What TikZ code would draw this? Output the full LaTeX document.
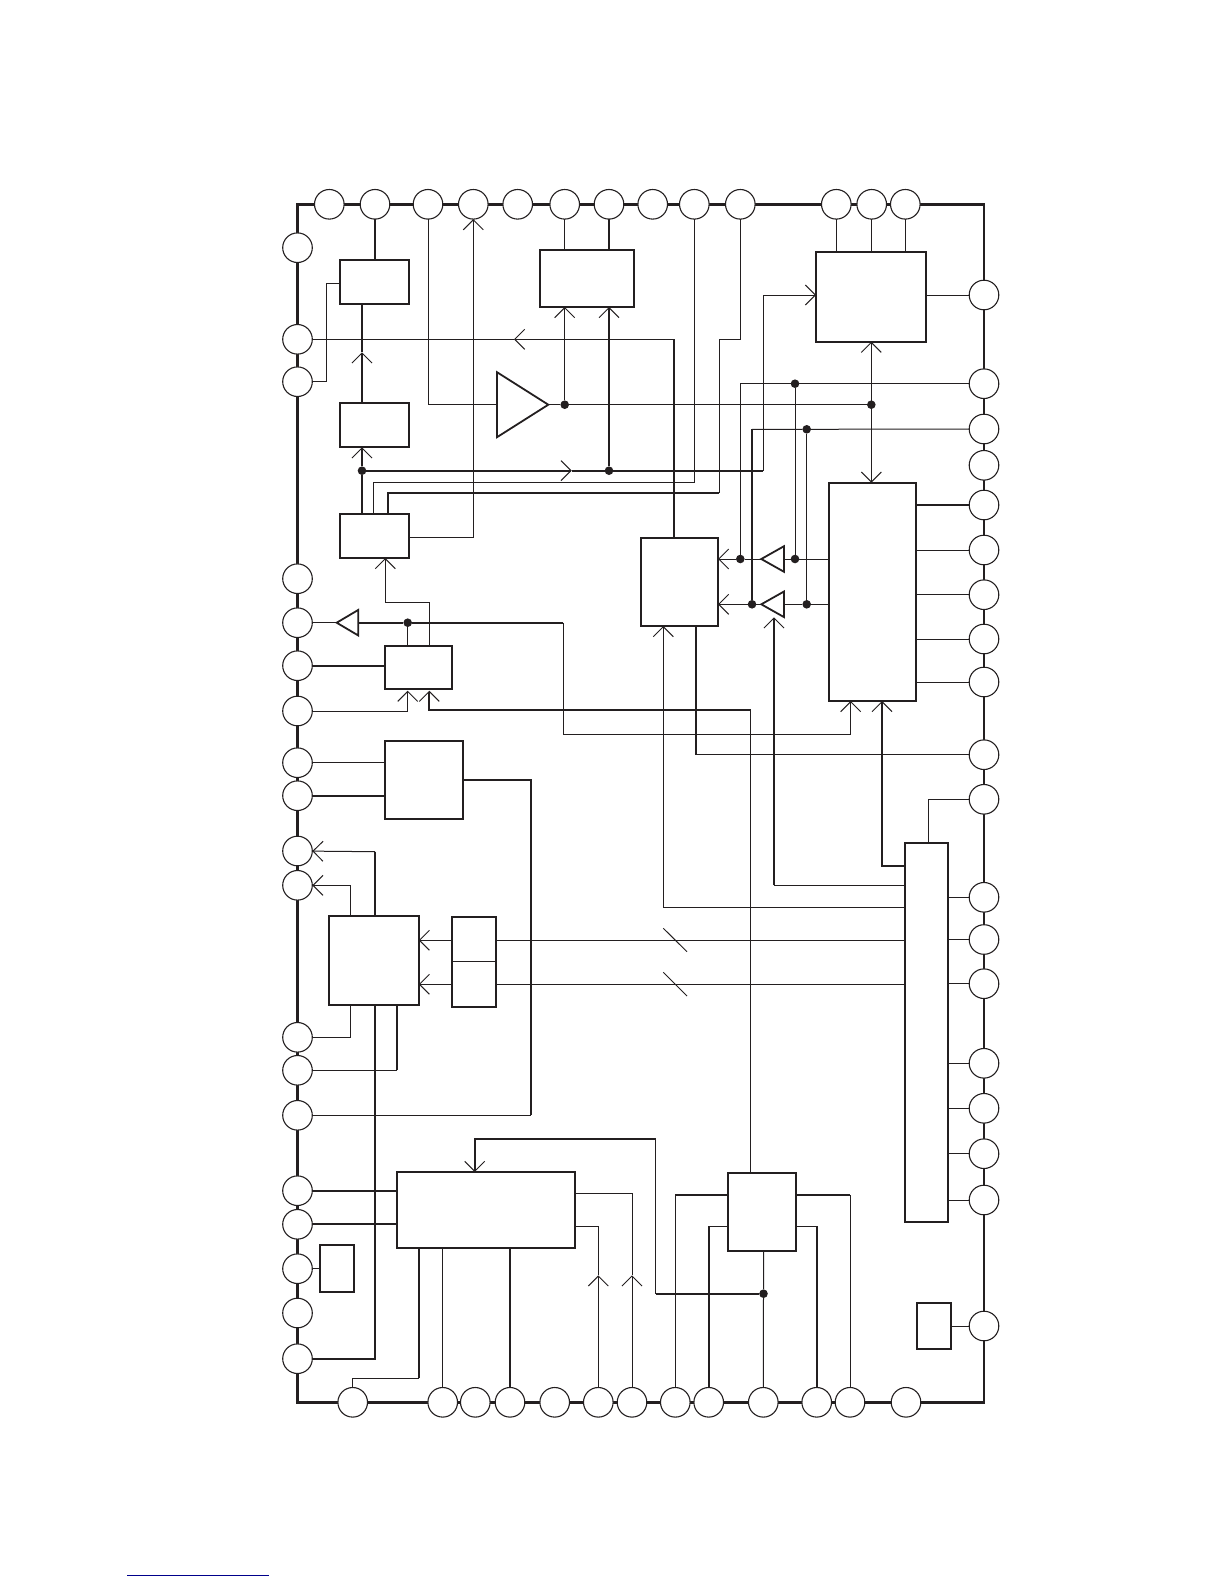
\documentclass[tikz,border=0pt]{standalone}
\usetikzlibrary{arrows.meta,shapes.geometric}
\definecolor{ink}{HTML}{231F20}
\definecolor{rule}{HTML}{00008B}
\tikzset{
  pin/.style={draw=ink,circle,fill=white,minimum size=29.6pt,inner sep=0pt,outer sep=0pt,line width=1.1pt},
  blk/.style={draw=ink,inner sep=0pt,outer sep=0pt,line width=1.8pt},
  wire/.style={draw=ink,line width=1pt},
  bus/.style={draw=ink,line width=1.9pt},
  dotn/.style={circle,fill=ink,inner sep=0pt,outer sep=0pt,minimum size=8.6pt},
  tri/.style={draw=ink,isosceles triangle,isosceles triangle stretches,shape border rotate=180,
    inner sep=0pt,outer sep=0pt,line width=1.8pt,anchor=apex},
  >={Straight Barb[length=10pt,width=20pt,line width=1pt]}
}
\begin{document}
\begin{tikzpicture}[x=1pt,y=-1pt]
\useasboundingbox (0,0) rectangle (1224,1584);

% outline of the package
\draw[ink,line width=2.4pt] (984,204.3) -- (297.5,204.3) -- (297.5,1402.3) -- (984,1402.3);
\draw[ink,line width=1.7pt] (984,203.1) -- (984,1403.5);

% pins
\foreach \x [count=\i] in {329.3,375,428,473.3,517.7,564.7,609,652.7,694.3,740.3,836.3,871.7,905.3}
  \node[pin] (pT\i) at (\x,204.3) {};
\foreach \y [count=\i] in {247.7,339.3,381.7,578.7,622.7,665.7,711,762.7,795.7,851,885.3,1037.3,1070.3,1115.3,1190.7,1224.3,1268.7,1313,1358.7}
  \node[pin] (pL\i) at (297.5,\y) {};
\foreach \y [count=\i] in {295,383.7,429,465.3,505,550,594.7,639,682,754.7,799.3,897.3,939.5,983.7,1063.3,1108.3,1153.7,1200,1326}
  \node[pin] (pR\i) at (984,\y) {};
\foreach \x [count=\i] in {352.7,442.7,475.3,510,554.7,598.3,632,675.3,708.7,763.3,816.7,850,906}
  \node[pin] (pB\i) at (\x,1402.3) {};

% blocks
\node[blk,minimum width=69pt,minimum height=44.3pt] (blkA) at (374.5,282.15) {};
\node[blk,minimum width=69pt,minimum height=44.6pt] (blkB) at (374.5,425) {};
\node[blk,minimum width=69pt,minimum height=44.3pt] (blkC) at (374.5,535.85) {};
\node[blk,minimum width=94pt,minimum height=57pt] (blkD) at (587,278.5) {};
\node[blk,minimum width=110pt,minimum height=89.4pt] (blkE) at (871,297) {};
\node[blk,minimum width=77pt,minimum height=88pt] (blkF) at (679.5,582) {};
\node[blk,minimum width=87pt,minimum height=218.3pt] (blkG) at (872.5,591.85) {};
\node[blk,minimum width=43pt,minimum height=379pt] (blkH) at (926.5,1032.2) {};
\node[blk,minimum width=67pt,minimum height=43pt] (blkJ) at (418.5,667.2) {};
\node[blk,minimum width=78pt,minimum height=77.7pt] (blkK) at (424,779.85) {};
\node[blk,minimum width=89.7pt,minimum height=89pt] (blkL) at (373.85,960.2) {};
\node[blk,minimum width=44pt,minimum height=90pt] (blkM) at (474,961.7) {};
\node[blk,minimum width=178.3pt,minimum height=76pt] (blkN) at (486.15,1210) {};
\node[blk,minimum width=67.7pt,minimum height=77.7pt] (blkP) at (762.15,1211.85) {};
\node[blk,minimum width=34pt,minimum height=47pt] (blkQ) at (337,1268.5) {};
\node[blk,minimum width=34.3pt,minimum height=46.3pt] (blkR) at (934.15,1325.85) {};
\draw[wire] (blkM.west) -- (blkM.east);

% amplifiers
\node[tri,shape border rotate=0,minimum width=65pt,minimum height=51.3pt] (ampA) at (548.3,404.7) {};
\node[tri,minimum width=25.6pt,minimum height=22.7pt] (bufA) at (761.3,559) {};
\node[tri,minimum width=25.6pt,minimum height=22.7pt] (bufB) at (761.3,604.3) {};
\node[tri,minimum width=25.6pt,minimum height=21.6pt] (bufC) at (336.7,622.7) {};

% junctions
\node[dotn] (dotA) at (362,470.7) {};
\node[dotn] (dotB) at (609,470.7) {};
\node[dotn] (dotC) at (564.7,404.7) {};
\node[dotn] (dotD) at (871.3,404.7) {};
\node[dotn] (dotE) at (795,383.7) {};
\node[dotn] (dotF) at (740.3,559) {};
\node[dotn] (dotG) at (795,559) {};
\node[dotn] (dotH) at (806.7,429.3) {};
\node[dotn] (dotI) at (806.7,604.3) {};
\node[dotn] (dotJ) at (752,604.3) {};
\node[dotn] (dotK) at (407.7,622.7) {};
\node[dotn] (dotL) at (763.5,1293.7) {};

% bends
\coordinate (jA) at (326.3,283.3);
\coordinate (jB) at (763.3,470.7);
\coordinate (jC) at (373.3,482.3);
\coordinate (jD) at (388,493);
\coordinate (jE) at (719.3,493);
\coordinate (jF) at (674,339.3);
\coordinate (jG) at (774,885.3);
\coordinate (jH) at (696,754.7);
\coordinate (jI) at (928.3,799.3);
\coordinate (jJ) at (882,866);
\coordinate (jK) at (663.3,907.3);
\coordinate (jL) at (563.3,622.7);
\coordinate (jM) at (850.7,734.3);
\coordinate (jN) at (429.3,602.3);
\coordinate (jO) at (385.3,602.3);
\coordinate (jP) at (429.3,710);
\coordinate (jQ) at (750.5,710);
\coordinate (jR) at (530.7,1115.3);
\coordinate (jS) at (375,851.7);
\coordinate (jT) at (350.7,885.3);
\coordinate (jU) at (397,1070.3);
\coordinate (jV) at (419,1378.3);
\coordinate (jW) at (474.7,1138.7);
\coordinate (jX) at (655.7,1138.7);
\coordinate (jY) at (655.7,1293.7);
\coordinate (rowA) at (0,940.3);
\coordinate (rowB) at (0,984.3);
\coordinate (rowC) at (0,1195);
\coordinate (rowD) at (0,1226.3);

% upper left
\draw[bus] (pT2) -- (pT2 |- blkA.north);
\draw[wire] (jA -| blkA.west) -- (jA) |- (pL3);
\draw[bus,->] (dotA |- blkB.north) -- (dotA |- 0,352.3);
\draw[bus] (dotA |- 0,352.3) -- (dotA |- blkA.south);
\draw[bus,->] (dotA) -- (dotA |- blkB.south);
\draw[bus] (dotA |- blkC.north) -- (dotA);
\draw[bus,->] (dotA) -- (571.7,470.7);
\draw[bus] (571.7,470.7) -- (dotB) -- (jB);
\draw[wire,->] (jB) |- (pR1 -| blkE.west);
\draw[wire] (jC |- blkC.north) -- (jC) -| (pT9);
\draw[bus] (jD |- blkC.north) -- (jD) -- (jE);
\draw[wire] (jE) -- (jE |- pL2) -| (pT10);
\draw[wire] (pT3) |- (ampA.west);
\draw[wire,->] (blkC.east |- 0,537.3) -| (pT4);
\draw[wire,->] (jF) -- (514,339.3);
\draw[wire] (514,339.3) -- (pL2);
\draw[bus] (jF) -- (jF |- blkF.north);

% top blocks
\draw[wire] (ampA.apex) -- (dotC) -- (dotD);
\draw[wire,->] (dotC) -- (dotC |- blkD.south);
\draw[wire] (pT6) -- (pT6 |- blkD.north);
\draw[bus,->] (dotB) -- (dotB |- blkD.south);
\draw[bus] (pT7) -- (pT7 |- blkD.north);
\foreach \i in {11,12,13}
  \draw[wire] (pT\i) -- (pT\i |- blkE.north);
\draw[wire] (pR1 -| blkE.east) -- (pR1);
\draw[wire,<->] (dotD |- blkE.south) -- (dotD |- blkG.north);

% buffers
\draw[wire] (pR2) -- (dotE) -| (dotF);
\draw[wire] (dotE) -- (dotG);
\draw[wire] (dotG -| blkG.west) -- (dotG) -- (bufA.east);
\draw[wire] (bufA.apex) -- (dotF);
\draw[wire,->] (dotF) -- (dotF -| blkF.east);
\draw[wire] (pR3) -- (dotH) -- (dotJ |- dotH);
\draw[bus] (dotJ |- dotH) -- (dotJ);
\draw[wire] (dotH) -- (dotI);
\draw[wire] (dotI -| blkG.west) -- (dotI) -- (bufB.east);
\draw[wire] (bufB.apex) -- (dotJ);
\draw[wire,->] (dotJ) -- (dotJ -| blkF.east);
\draw[bus,->] (jG) -- (774,617.3);
\draw[wire] (jG) -- (jG -| blkH.west);

% right hand pins
\draw[bus] (pR5 -| blkG.east) -- (pR5);
\foreach \i in {6,7,8,9}
  \draw[wire] (pR\i -| blkG.east) -- (pR\i);
\foreach \i in {12,...,18}
  \draw[wire] (pR\i -| blkH.east) -- (pR\i);
\draw[bus] (jH |- blkF.south) -- (jH);
\draw[wire] (jH) -- (pR10);
\draw[wire] (pR11) -- (jI) -- (jI |- blkH.north);
\draw[bus,->] (jJ -| blkH.west) -- (jJ) -- (jJ |- blkG.south);
\draw[wire,->] (jK -| blkH.west) -- (jK) -- (jK |- blkF.south);
\draw[wire] (pR19 -| blkR.east) -- (pR19);

% middle left
\draw[wire] (bufC.apex) -- (pL5);
\draw[bus] (bufC.east) -- (dotK) -- (jL);
\draw[wire,->] (jL) |- (jM) -- (jM |- blkG.south);
\draw[wire] (dotK) -- (dotK |- blkJ.north);
\draw[wire,->] (jN |- blkJ.north) -- (jN) -- (jO) -- (jO |- blkC.south);
\draw[bus] (pL6) -- (pL6 -| blkJ.west);
\draw[wire,->] (pL7) -| (dotK |- 0,690.7);
\draw[bus,->] (jQ) -- (jP) -- (jP |- 0,690.7);
\draw[wire] (jQ) -- (jQ |- blkP.north);
\draw[wire] (pL8) -- (pL8 -| blkK.west);
\draw[bus] (pL9) -- (pL9 -| blkK.west);
\draw[bus] (blkK.east) -| (jR);
\draw[wire] (jR) -- (pL14);

% block with the two latches
\draw[bus] (jS |- blkL.north) -- (jS);
\draw[wire,->] (jS) -- (pL10);
\draw[wire,->] (jT |- blkL.north) -- (jT) -- (pL11);
\draw[wire] (jT |- blkL.south) |- (pL12);
\draw[bus] (jU |- blkL.south) -- (jU);
\draw[wire] (jU) -- (pL13);
\draw[bus] (jS |- blkL.south) |- (pL19);
\draw[wire,->] (rowA -| blkM.west) -- (rowA -| blkL.east);
\draw[wire,->] (rowB -| blkM.west) -- (rowB -| blkL.east);
\draw[wire] (rowA -| blkM.east) -- (rowA -| blkH.west);
\draw[wire] (rowB -| blkM.east) -- (rowB -| blkH.west);
\draw[wire] (663.3,928.3) -- (687,951.7);
\draw[wire] (663.3,972.3) -- (687,996);

% bottom
\draw[bus] (pL15) -- (pL15 -| blkN.west);
\draw[bus] (pL16) -- (pL16 -| blkN.west);
\draw[wire] (pL17) -- (pL17 -| blkQ.west);
\draw[bus] (jV |- blkN.south) -- (jV);
\draw[wire] (jV) -| (pB1);
\draw[wire] (pB2 |- blkN.south) -- (pB2);
\draw[bus] (pB4 |- blkN.south) -- (pB4);
\draw[wire,->] (pB7) -- (pB7 |- 0,1275.3);
\draw[wire] (pB7 |- 0,1275.3) |- (blkN.east |- 0,1193.3);
\draw[wire,->] (pB6) -- (pB6 |- 0,1275.3);
\draw[wire] (pB6 |- 0,1275.3) |- (blkN.east |- rowD);
\draw[bus,->] (jX) -- (jW) -- (jW |- blkN.north);
\draw[wire] (jX) -- (jY);
\draw[bus] (jY) -- (dotL);
\draw[wire] (dotL |- blkP.south) -- (dotL) -- (pB10);
\draw[bus] (rowC -| blkP.west) -- (rowC -| pB8);
\draw[wire] (rowC -| pB8) -- (pB8);
\draw[wire] (rowD -| blkP.west) -- (rowD -| pB9);
\draw[bus] (rowD -| pB9) -- (pB9);
\draw[bus] (rowC -| blkP.east) -- (rowC -| pB12);
\draw[wire] (rowC -| pB12) -- (pB12);
\draw[wire] (rowD -| blkP.east) -- (rowD -| pB11);
\draw[bus] (rowD -| pB11) -- (pB11);

\draw[rule,line width=1pt] (127.3,1575.3) -- (269,1575.3);
\end{tikzpicture}
\end{document}
